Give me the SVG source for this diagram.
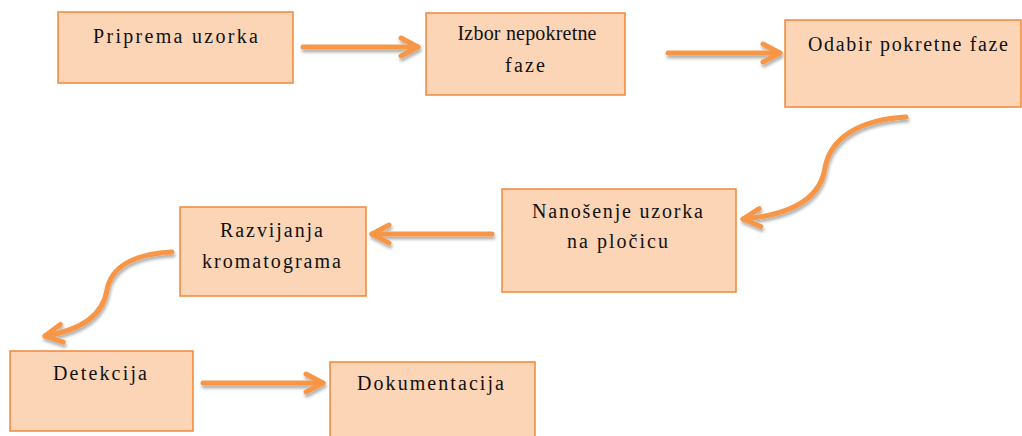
<svg xmlns="http://www.w3.org/2000/svg" width="1022" height="436" viewBox="0 0 1022 436">
<style>
.box{fill:#FBD5B5;stroke:#F0883A;stroke-width:1.5}
.t{font-family:"Liberation Serif","Times New Roman",serif;font-size:20px;fill:#111;text-anchor:middle}
.c{fill:none;stroke:#F79646;stroke-width:5;stroke-linecap:round}
</style>
<defs>
<filter id="sh" filterUnits="userSpaceOnUse" x="0" y="0" width="1022" height="436">
<feDropShadow dx="1" dy="3" stdDeviation="1.6" flood-color="#000" flood-opacity="0.3"/>
</filter>
<marker id="ah" viewBox="0 0 26 26" markerWidth="26" markerHeight="26" refX="21" refY="13" orient="auto" markerUnits="userSpaceOnUse">
<path d="M4,4 L21,13 L4,22" fill="none" stroke="#F79646" stroke-width="5" stroke-linecap="round" stroke-linejoin="round"/>
</marker>
</defs>
<g id="connectors" filter="url(#sh)">
<path class="c" d="M303,47 L418,47" marker-end="url(#ah)"/>
<path class="c" d="M668,53 L780,53" marker-end="url(#ah)"/>
<path class="c" d="M906,117 C856,120 830,140 825,168 C820,200 790,215 743,219" marker-end="url(#ah)"/>
<path class="c" d="M492,234 L372,234" marker-end="url(#ah)"/>
<path class="c" d="M172,252 C132,254 111,268 107,290 C103,315 82,330 45,336" marker-end="url(#ah)"/>
<path class="c" d="M203,383 L323,383" marker-end="url(#ah)"/>
</g>
<g id="n1"><rect class="box" x="58" y="12" width="235" height="71"/><text class="t" x="175.5" y="43" textLength="165" lengthAdjust="spacing">Priprema  uzorka</text></g>
<g id="n2"><rect class="box" x="426" y="13" width="199" height="82"/><text class="t" x="527" y="40" textLength="139" lengthAdjust="spacing">Izbor nepokretne</text><text class="t" x="525" y="72" textLength="40" lengthAdjust="spacing">faze</text></g>
<g id="n3"><rect class="box" x="785" y="20" width="236" height="87"/><text class="t" x="908" y="51" textLength="200" lengthAdjust="spacing">Odabir pokretne faze</text></g>
<g id="n4"><rect class="box" x="502" y="189" width="234" height="103"/><text class="t" x="617.5" y="218" textLength="171" lengthAdjust="spacing">Nanošenje uzorka</text><text class="t" x="617.5" y="248" textLength="101" lengthAdjust="spacing">na pločicu</text></g>
<g id="n5"><rect class="box" x="180" y="207" width="186" height="89"/><text class="t" x="271.5" y="237" textLength="103" lengthAdjust="spacing">Razvijanja</text><text class="t" x="271.5" y="268" textLength="139" lengthAdjust="spacing">kromatograma</text></g>
<g id="n6"><rect class="box" x="10" y="351" width="183" height="80"/><text class="t" x="100" y="380" textLength="94" lengthAdjust="spacing">Detekcija</text></g>
<g id="n7"><rect class="box" x="330" y="362" width="205" height="80"/><text class="t" x="430.5" y="390" textLength="147" lengthAdjust="spacing">Dokumentacija</text></g>
</svg>
